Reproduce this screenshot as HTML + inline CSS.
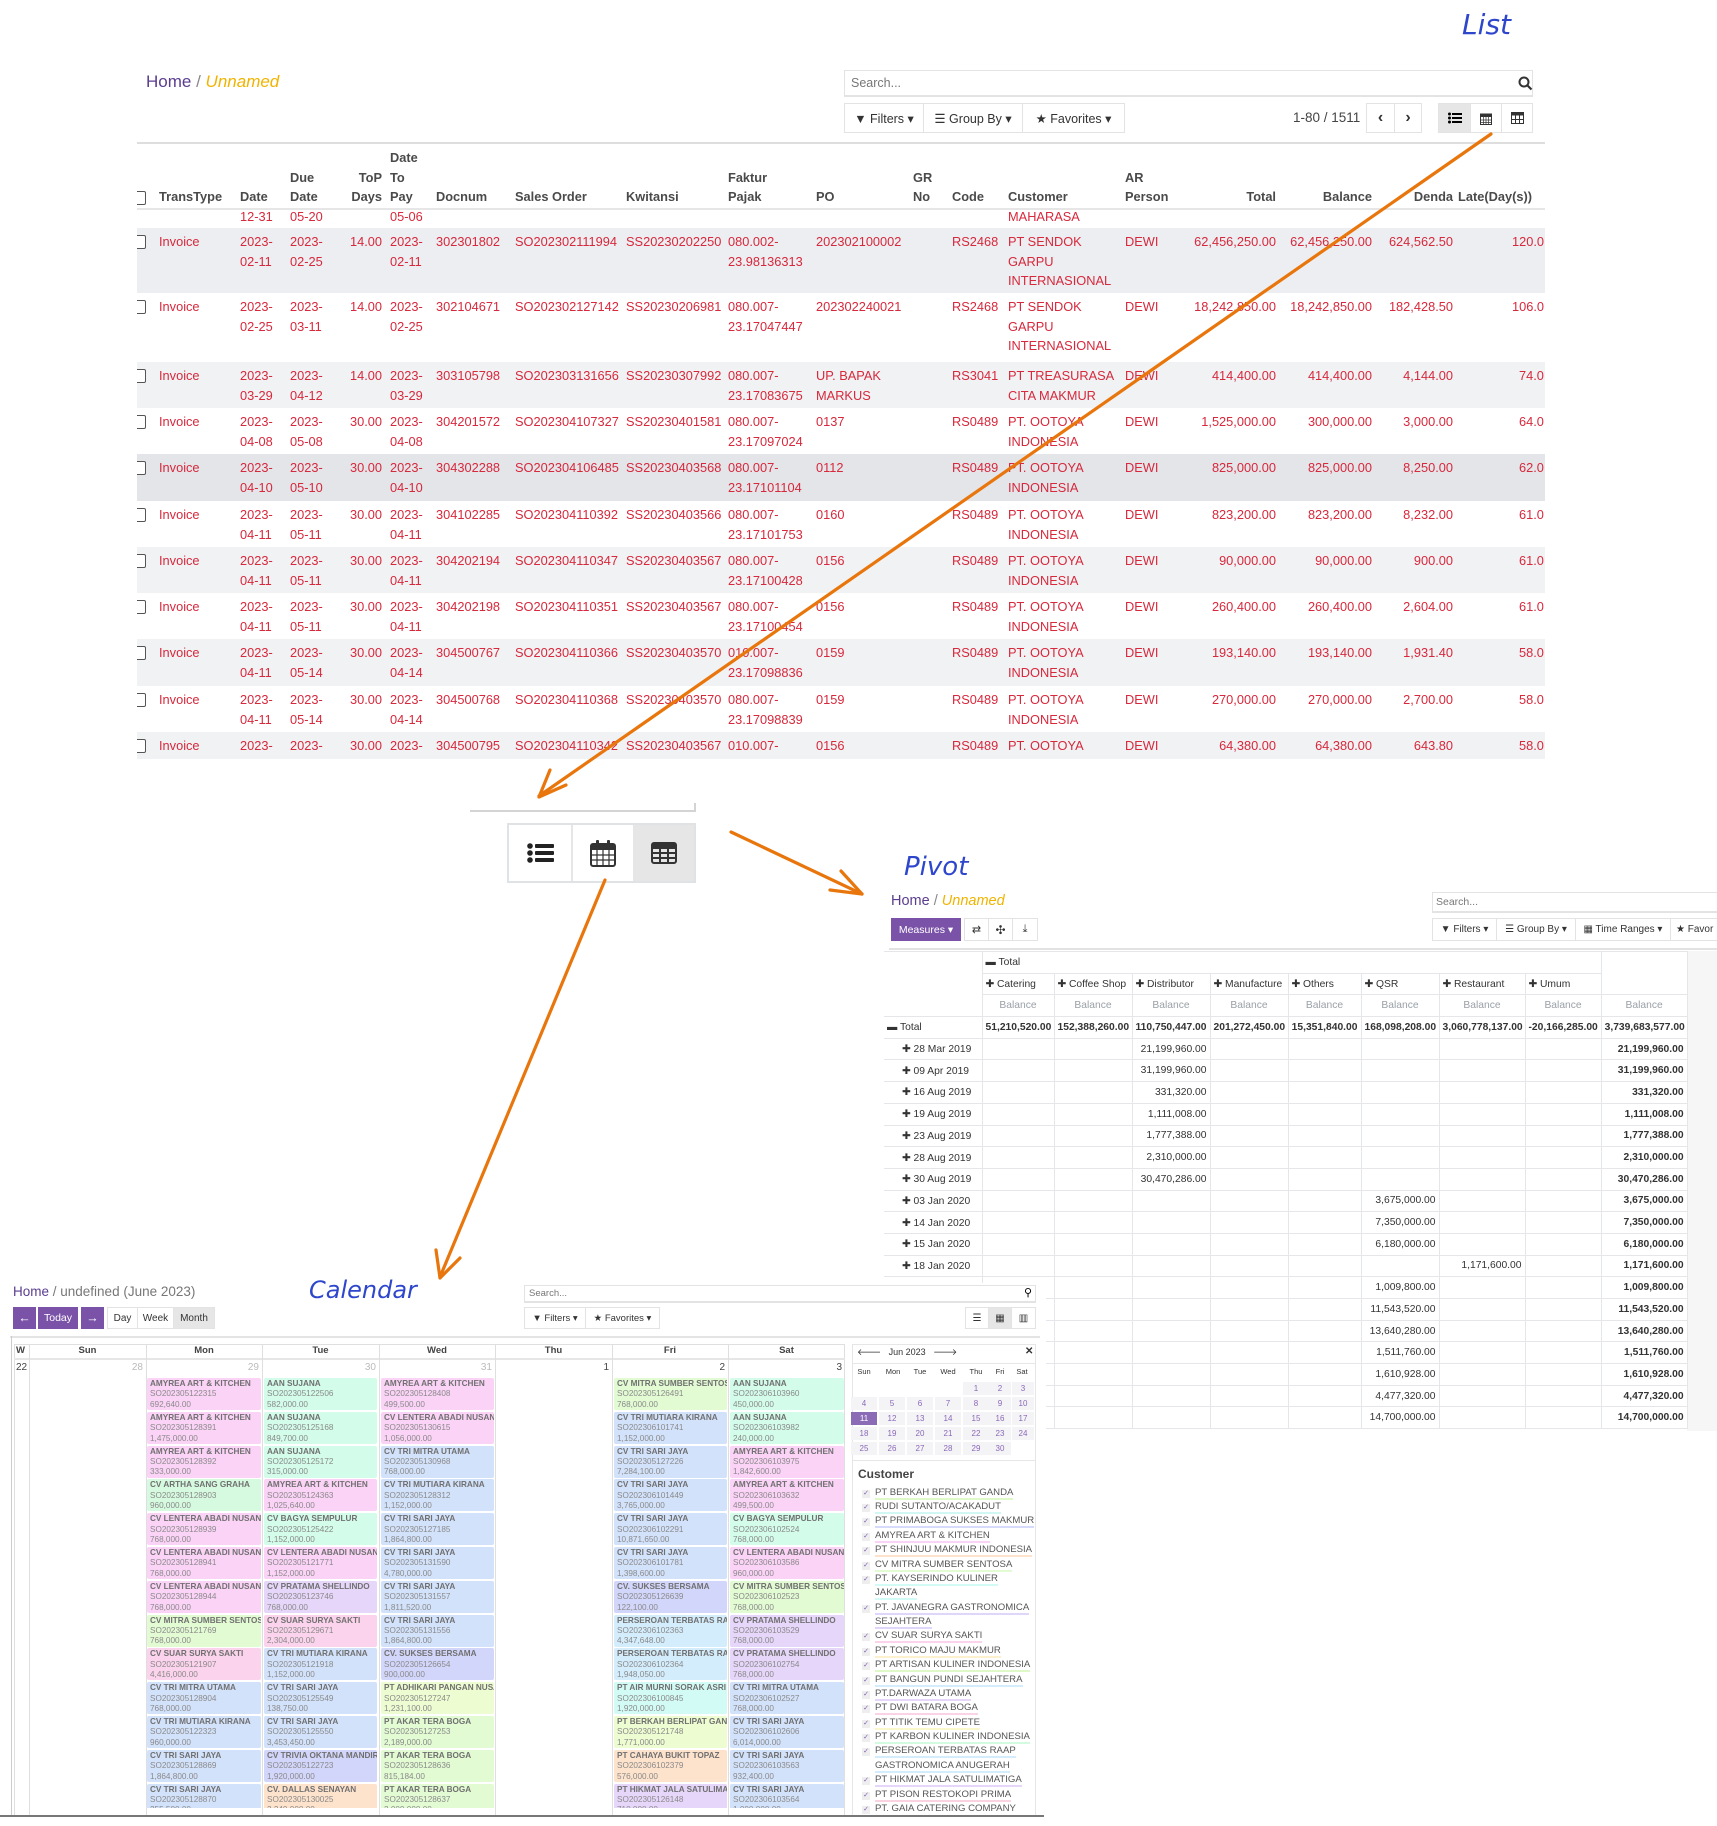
<!DOCTYPE html>
<html><head><meta charset="utf-8">
<style>
*{box-sizing:border-box;margin:0;padding:0}
body{width:1717px;height:1826px;position:relative;background:#fff;font-family:"Liberation Sans",Arial,sans-serif;overflow:hidden}
.t{position:absolute;white-space:nowrap}
.clip{position:absolute;overflow:hidden}
.inner{position:absolute;left:0;top:0;width:1717px;height:1826px}
.row{position:absolute;left:0;width:1717px}
.c{position:absolute;top:4px;line-height:19.5px;font-size:12.8px;color:#d7283c;white-space:nowrap}
.h{position:absolute;line-height:19.5px;font-size:12.8px;color:#4a4a4a;font-weight:bold;white-space:nowrap}
.cb{position:absolute;left:132px;width:14px;height:14px;border:1.5px solid #555;border-radius:2px;background:#fff}
.hand{position:absolute;color:#2d46cc;font-family:"Comic Sans MS","DejaVu Sans",cursive;font-style:italic;white-space:nowrap}
.btn{position:absolute;border:1px solid #e3e3e3;background:#fff;font-size:12.5px;color:#333;display:flex;align-items:center;justify-content:center;white-space:nowrap}
.pv{position:absolute;left:884px;top:951px;width:803px;border-collapse:collapse;table-layout:fixed;font-size:10.3px;color:#333}
.pv td{border:1.5px solid #e4e6e9;height:21.7px;padding:0 3px;text-align:right;white-space:nowrap;overflow:hidden}
.pv td.l{text-align:left}
.pv td.gr{color:#9aa0a6;text-align:center}
.pv td.b{font-weight:bold}
.col{position:absolute;top:1378px;height:430px;overflow:hidden;display:flex;flex-direction:column;gap:1.8px}
.ev{height:32px;flex-shrink:0;border-radius:2px;padding:1px 3px;font-size:8.2px;line-height:10.4px;color:#8a8a8a;white-space:nowrap;overflow:hidden}
.ev b{color:#707070}
.p{background:#fbd3f7}.m{background:#d3fcea}.bl{background:#d3e2fb}.g{background:#e2fbd3}.ga{background:#d6fadf}
.u{background:#e6d6fa}.lv{background:#d3d6fb}.y{background:#edfcd1}.o{background:#fde2cc}.cy{background:#d4edfc}.a{background:#d3fbf6}.s{background:#fcd3ec}
.cg{position:absolute;border:1px solid #dfdfdf}
.mc{position:absolute;font-size:8px;color:#8a67b8;text-align:center;width:26px;height:13px;line-height:13px;background:#f4f4f6}
.cu{position:absolute;left:862px;font-size:9.6px;color:#555;white-space:nowrap;line-height:12px}
.cu i{display:inline-block;width:8px;height:8px;background:#eee;color:#7a5bb0;font-size:7px;line-height:8px;text-align:center;font-style:normal;margin-right:5px}
</style></head><body>

<!-- ============ LIST ============ -->
<div class="hand" style="left:1462px;top:8px;font-size:28px">List</div>
<div class="t" style="left:146px;top:72px;font-size:17px;color:#5a3d8f">Home <span style="color:#888">/</span> <i style="color:#f0b400">Unnamed</i></div>
<div class="btn" style="left:844px;top:70px;width:689px;height:27px;justify-content:flex-start;padding-left:6px;color:#777;border-width:1px 1px 2px 1px">Search...</div>
<svg class="t" style="left:1518px;top:76px" width="15" height="15" viewBox="0 0 15 15"><circle cx="6" cy="6" r="4.5" fill="none" stroke="#333" stroke-width="2"/><line x1="9.5" y1="9.5" x2="13.5" y2="13.5" stroke="#333" stroke-width="2.2"/></svg>
<div class="btn" style="left:844px;top:103px;width:80px;height:30px">▼ Filters ▾</div>
<div class="btn" style="left:923px;top:103px;width:100px;height:30px">☰ Group By ▾</div>
<div class="btn" style="left:1022px;top:103px;width:103px;height:30px">★ Favorites ▾</div>
<div class="t" style="left:1293px;top:110px;font-size:13.5px;color:#444">1-80 / 1511</div>
<div class="btn" style="left:1366px;top:103px;width:29px;height:30px;font-size:16px;font-weight:bold">‹</div>
<div class="btn" style="left:1394px;top:103px;width:28px;height:30px;font-size:16px;font-weight:bold">›</div>
<div class="btn" style="left:1438px;top:103px;width:33px;height:30px;background:#e6e6e6"><svg width="14" height="12"><circle cx="1.5" cy="2" r="1.5"/><circle cx="1.5" cy="6" r="1.5"/><circle cx="1.5" cy="10" r="1.5"/><rect x="4" y="1" width="10" height="2"/><rect x="4" y="5" width="10" height="2"/><rect x="4" y="9" width="10" height="2"/></svg></div>
<div class="btn" style="left:1470px;top:103px;width:32px;height:30px"><svg width="12" height="13"><rect x="0.5" y="2" width="11" height="10.5" fill="none" stroke="#333"/><rect x="0.5" y="2" width="11" height="3" fill="#333"/><path d="M0 8h12M0 10.5h12M3.5 5v8M6 5v8M8.5 5v8" stroke="#333" stroke-width="0.7"/></svg></div>
<div class="btn" style="left:1501px;top:103px;width:32px;height:30px"><svg width="13" height="12"><rect x="0.5" y="0.5" width="12" height="11" fill="none" stroke="#333"/><rect x="0.5" y="0.5" width="12" height="3" fill="#333"/><path d="M0 7.5h13M4.5 3v9M8.5 3v9" stroke="#333"/></svg></div>

<div class="clip" style="left:137px;top:0;width:1408px;height:800px">
<div class="inner" style="left:-137px">
<div style="position:absolute;left:137px;top:142px;width:1408px;height:2px;background:#dedede"></div>
<div class="h" style="left:390px;top:148px">Date</div>
<div class="h" style="left:290px;top:168px">Due</div>
<div class="h" style="right:1335px;top:168px">ToP</div>
<div class="h" style="left:390px;top:168px">To</div>
<div class="h" style="left:728px;top:168px">Faktur</div>
<div class="h" style="left:913px;top:168px">GR</div>
<div class="h" style="left:1125px;top:168px">AR</div>
<div class="cb" style="top:191px"></div>
<div class="h" style="left:159px;top:187px">TransType</div>
<div class="h" style="left:240px;top:187px">Date</div>
<div class="h" style="left:290px;top:187px">Date</div>
<div class="h" style="right:1335px;top:187px">Days</div>
<div class="h" style="left:390px;top:187px">Pay</div>
<div class="h" style="left:436px;top:187px">Docnum</div>
<div class="h" style="left:515px;top:187px">Sales Order</div>
<div class="h" style="left:626px;top:187px">Kwitansi</div>
<div class="h" style="left:728px;top:187px">Pajak</div>
<div class="h" style="left:816px;top:187px">PO</div>
<div class="h" style="left:913px;top:187px">No</div>
<div class="h" style="left:952px;top:187px">Code</div>
<div class="h" style="left:1008px;top:187px">Customer</div>
<div class="h" style="left:1125px;top:187px">Person</div>
<div class="h" style="right:441px;top:187px">Total</div>
<div class="h" style="right:345px;top:187px">Balance</div>
<div class="h" style="right:264px;top:187px">Denda</div>
<div class="h" style="right:185px;top:187px">Late(Day(s))</div>
<div style="position:absolute;left:137px;top:208px;width:1408px;height:2px;background:#e6e6e6"></div>
<div class="row" style="top:203px;height:25px">
<div class="c" style="left:240px">12-31</div><div class="c" style="left:290px">05-20</div><div class="c" style="left:390px">05-06</div><div class="c" style="left:1008px">MAHARASA</div></div>

<div class="row" style="top:228px;height:65px;background:#eceef1"><div class="cb" style="top:7px"></div>
<div class="c" style="left:159px">Invoice</div><div class="c" style="left:240px">2023-<br>02-11</div><div class="c" style="left:290px">2023-<br>02-25</div><div class="c" style="right:1335px">14.00</div><div class="c" style="left:390px">2023-<br>02-11</div><div class="c" style="left:436px">302301802</div><div class="c" style="left:515px">SO202302111994</div><div class="c" style="left:626px">SS20230202250</div><div class="c" style="left:728px">080.002-<br>23.98136313</div><div class="c" style="left:816px">202302100002</div><div class="c" style="left:952px">RS2468</div><div class="c" style="left:1008px">PT SENDOK<br>GARPU<br>INTERNASIONAL</div><div class="c" style="left:1125px">DEWI</div><div class="c" style="right:441px">62,456,250.00</div><div class="c" style="right:345px">62,456,250.00</div><div class="c" style="right:264px">624,562.50</div><div class="c" style="left:1512px">120.0</div></div>

<div class="row" style="top:293px;height:69px"><div class="cb" style="top:7px"></div>
<div class="c" style="left:159px">Invoice</div><div class="c" style="left:240px">2023-<br>02-25</div><div class="c" style="left:290px">2023-<br>03-11</div><div class="c" style="right:1335px">14.00</div><div class="c" style="left:390px">2023-<br>02-25</div><div class="c" style="left:436px">302104671</div><div class="c" style="left:515px">SO202302127142</div><div class="c" style="left:626px">SS20230206981</div><div class="c" style="left:728px">080.007-<br>23.17047447</div><div class="c" style="left:816px">202302240021</div><div class="c" style="left:952px">RS2468</div><div class="c" style="left:1008px">PT SENDOK<br>GARPU<br>INTERNASIONAL</div><div class="c" style="left:1125px">DEWI</div><div class="c" style="right:441px">18,242,850.00</div><div class="c" style="right:345px">18,242,850.00</div><div class="c" style="right:264px">182,428.50</div><div class="c" style="left:1512px">106.0</div></div>

<div class="row" style="top:362px;height:46px;background:#f1f2f4"><div class="cb" style="top:7px"></div>
<div class="c" style="left:159px">Invoice</div><div class="c" style="left:240px">2023-<br>03-29</div><div class="c" style="left:290px">2023-<br>04-12</div><div class="c" style="right:1335px">14.00</div><div class="c" style="left:390px">2023-<br>03-29</div><div class="c" style="left:436px">303105798</div><div class="c" style="left:515px">SO202303131656</div><div class="c" style="left:626px">SS20230307992</div><div class="c" style="left:728px">080.007-<br>23.17083675</div><div class="c" style="left:816px">UP. BAPAK<br>MARKUS</div><div class="c" style="left:952px">RS3041</div><div class="c" style="left:1008px">PT TREASURASA<br>CITA MAKMUR</div><div class="c" style="left:1125px">DEWI</div><div class="c" style="right:441px">414,400.00</div><div class="c" style="right:345px">414,400.00</div><div class="c" style="right:264px">4,144.00</div><div class="c" style="left:1519px">74.0</div></div>

<div class="row" style="top:408px;height:46px"><div class="cb" style="top:7px"></div>
<div class="c" style="left:159px">Invoice</div><div class="c" style="left:240px">2023-<br>04-08</div><div class="c" style="left:290px">2023-<br>05-08</div><div class="c" style="right:1335px">30.00</div><div class="c" style="left:390px">2023-<br>04-08</div><div class="c" style="left:436px">304201572</div><div class="c" style="left:515px">SO202304107327</div><div class="c" style="left:626px">SS20230401581</div><div class="c" style="left:728px">080.007-<br>23.17097024</div><div class="c" style="left:816px">0137</div><div class="c" style="left:952px">RS0489</div><div class="c" style="left:1008px">PT. OOTOYA<br>INDONESIA</div><div class="c" style="left:1125px">DEWI</div><div class="c" style="right:441px">1,525,000.00</div><div class="c" style="right:345px">300,000.00</div><div class="c" style="right:264px">3,000.00</div><div class="c" style="left:1519px">64.0</div></div>

<div class="row" style="top:454px;height:47px;background:#e3e5e9"><div class="cb" style="top:7px"></div>
<div class="c" style="left:159px">Invoice</div><div class="c" style="left:240px">2023-<br>04-10</div><div class="c" style="left:290px">2023-<br>05-10</div><div class="c" style="right:1335px">30.00</div><div class="c" style="left:390px">2023-<br>04-10</div><div class="c" style="left:436px">304302288</div><div class="c" style="left:515px">SO202304106485</div><div class="c" style="left:626px">SS20230403568</div><div class="c" style="left:728px">080.007-<br>23.17101104</div><div class="c" style="left:816px">0112</div><div class="c" style="left:952px">RS0489</div><div class="c" style="left:1008px">PT. OOTOYA<br>INDONESIA</div><div class="c" style="left:1125px">DEWI</div><div class="c" style="right:441px">825,000.00</div><div class="c" style="right:345px">825,000.00</div><div class="c" style="right:264px">8,250.00</div><div class="c" style="left:1519px">62.0</div></div>

<div class="row" style="top:501px;height:46px"><div class="cb" style="top:7px"></div>
<div class="c" style="left:159px">Invoice</div><div class="c" style="left:240px">2023-<br>04-11</div><div class="c" style="left:290px">2023-<br>05-11</div><div class="c" style="right:1335px">30.00</div><div class="c" style="left:390px">2023-<br>04-11</div><div class="c" style="left:436px">304102285</div><div class="c" style="left:515px">SO202304110392</div><div class="c" style="left:626px">SS20230403566</div><div class="c" style="left:728px">080.007-<br>23.17101753</div><div class="c" style="left:816px">0160</div><div class="c" style="left:952px">RS0489</div><div class="c" style="left:1008px">PT. OOTOYA<br>INDONESIA</div><div class="c" style="left:1125px">DEWI</div><div class="c" style="right:441px">823,200.00</div><div class="c" style="right:345px">823,200.00</div><div class="c" style="right:264px">8,232.00</div><div class="c" style="left:1519px">61.0</div></div>

<div class="row" style="top:547px;height:46px;background:#f1f2f4"><div class="cb" style="top:7px"></div>
<div class="c" style="left:159px">Invoice</div><div class="c" style="left:240px">2023-<br>04-11</div><div class="c" style="left:290px">2023-<br>05-11</div><div class="c" style="right:1335px">30.00</div><div class="c" style="left:390px">2023-<br>04-11</div><div class="c" style="left:436px">304202194</div><div class="c" style="left:515px">SO202304110347</div><div class="c" style="left:626px">SS20230403567</div><div class="c" style="left:728px">080.007-<br>23.17100428</div><div class="c" style="left:816px">0156</div><div class="c" style="left:952px">RS0489</div><div class="c" style="left:1008px">PT. OOTOYA<br>INDONESIA</div><div class="c" style="left:1125px">DEWI</div><div class="c" style="right:441px">90,000.00</div><div class="c" style="right:345px">90,000.00</div><div class="c" style="right:264px">900.00</div><div class="c" style="left:1519px">61.0</div></div>

<div class="row" style="top:593px;height:46px"><div class="cb" style="top:7px"></div>
<div class="c" style="left:159px">Invoice</div><div class="c" style="left:240px">2023-<br>04-11</div><div class="c" style="left:290px">2023-<br>05-11</div><div class="c" style="right:1335px">30.00</div><div class="c" style="left:390px">2023-<br>04-11</div><div class="c" style="left:436px">304202198</div><div class="c" style="left:515px">SO202304110351</div><div class="c" style="left:626px">SS20230403567</div><div class="c" style="left:728px">080.007-<br>23.17100454</div><div class="c" style="left:816px">0156</div><div class="c" style="left:952px">RS0489</div><div class="c" style="left:1008px">PT. OOTOYA<br>INDONESIA</div><div class="c" style="left:1125px">DEWI</div><div class="c" style="right:441px">260,400.00</div><div class="c" style="right:345px">260,400.00</div><div class="c" style="right:264px">2,604.00</div><div class="c" style="left:1519px">61.0</div></div>

<div class="row" style="top:639px;height:47px;background:#f1f2f4"><div class="cb" style="top:7px"></div>
<div class="c" style="left:159px">Invoice</div><div class="c" style="left:240px">2023-<br>04-11</div><div class="c" style="left:290px">2023-<br>05-14</div><div class="c" style="right:1335px">30.00</div><div class="c" style="left:390px">2023-<br>04-14</div><div class="c" style="left:436px">304500767</div><div class="c" style="left:515px">SO202304110366</div><div class="c" style="left:626px">SS20230403570</div><div class="c" style="left:728px">010.007-<br>23.17098836</div><div class="c" style="left:816px">0159</div><div class="c" style="left:952px">RS0489</div><div class="c" style="left:1008px">PT. OOTOYA<br>INDONESIA</div><div class="c" style="left:1125px">DEWI</div><div class="c" style="right:441px">193,140.00</div><div class="c" style="right:345px">193,140.00</div><div class="c" style="right:264px">1,931.40</div><div class="c" style="left:1519px">58.0</div></div>

<div class="row" style="top:686px;height:46px"><div class="cb" style="top:7px"></div>
<div class="c" style="left:159px">Invoice</div><div class="c" style="left:240px">2023-<br>04-11</div><div class="c" style="left:290px">2023-<br>05-14</div><div class="c" style="right:1335px">30.00</div><div class="c" style="left:390px">2023-<br>04-14</div><div class="c" style="left:436px">304500768</div><div class="c" style="left:515px">SO202304110368</div><div class="c" style="left:626px">SS20230403570</div><div class="c" style="left:728px">080.007-<br>23.17098839</div><div class="c" style="left:816px">0159</div><div class="c" style="left:952px">RS0489</div><div class="c" style="left:1008px">PT. OOTOYA<br>INDONESIA</div><div class="c" style="left:1125px">DEWI</div><div class="c" style="right:441px">270,000.00</div><div class="c" style="right:345px">270,000.00</div><div class="c" style="right:264px">2,700.00</div><div class="c" style="left:1519px">58.0</div></div>

<div class="row" style="top:732px;height:27px;background:#f1f2f4"><div class="cb" style="top:7px"></div>
<div class="c" style="left:159px">Invoice</div><div class="c" style="left:240px">2023-</div><div class="c" style="left:290px">2023-</div><div class="c" style="right:1335px">30.00</div><div class="c" style="left:390px">2023-</div><div class="c" style="left:436px">304500795</div><div class="c" style="left:515px">SO202304110342</div><div class="c" style="left:626px">SS20230403567</div><div class="c" style="left:728px">010.007-</div><div class="c" style="left:816px">0156</div><div class="c" style="left:952px">RS0489</div><div class="c" style="left:1008px">PT. OOTOYA</div><div class="c" style="left:1125px">DEWI</div><div class="c" style="right:441px">64,380.00</div><div class="c" style="right:345px">64,380.00</div><div class="c" style="right:264px">643.80</div><div class="c" style="left:1519px">58.0</div></div>
</div></div>

<!-- middle view switcher -->
<div style="position:absolute;left:470px;top:810px;width:226px;height:2px;background:#d4d4d4"></div>
<div style="position:absolute;left:694px;top:803px;width:2px;height:9px;background:#d4d4d4"></div>
<div style="position:absolute;left:507px;top:823px;width:189px;height:60px;border:2px solid #dfe3e6;background:#e6e6e6"></div>
<div style="position:absolute;left:509px;top:825px;width:62px;height:56px;background:#fff;display:flex;align-items:center;justify-content:center"><svg width="27" height="20"><circle cx="3" cy="3" r="2.8" fill="#222"/><circle cx="3" cy="10" r="2.8" fill="#222"/><circle cx="3" cy="17" r="2.8" fill="#222"/><rect x="8" y="1" width="19" height="4" rx="1" fill="#222"/><rect x="8" y="8" width="19" height="4" rx="1" fill="#222"/><rect x="8" y="15" width="19" height="4" rx="1" fill="#222"/></svg></div>
<div style="position:absolute;left:573px;top:825px;width:60px;height:56px;background:#fff;display:flex;align-items:center;justify-content:center"><svg width="26" height="27"><rect x="1" y="4" width="24" height="22" rx="2" fill="none" stroke="#333" stroke-width="2"/><rect x="1" y="4" width="24" height="6" fill="#333"/><rect x="6" y="0" width="3" height="7" rx="1" fill="#333"/><rect x="17" y="0" width="3" height="7" rx="1" fill="#333"/><path d="M1 15h24M1 20h24M7 10v16M13 10v16M19 10v16" stroke="#333" stroke-width="1.2"/></svg></div>
<div style="position:absolute;left:634px;top:825px;width:60px;height:56px;display:flex;align-items:center;justify-content:center"><svg width="26" height="22"><rect x="1" y="1" width="24" height="20" rx="2" fill="none" stroke="#333" stroke-width="2"/><rect x="1" y="1" width="24" height="6" fill="#333"/><path d="M1 11h24M1 16h24M9 6v15M17 6v15" stroke="#333" stroke-width="2"/></svg></div>

<!-- ============ PIVOT ============ -->
<div class="hand" style="left:904px;top:852px;font-size:26px">Pivot</div>
<div class="t" style="left:891px;top:893px;font-size:14.5px;color:#5a3d8f">Home <span style="color:#888">/</span> <i style="color:#f0b400">Unnamed</i></div>
<div class="btn" style="left:891px;top:918px;width:70px;height:23px;background:#7a52a8;color:#fff;border-color:#7a52a8;font-size:10.5px">Measures ▾</div>
<div class="btn" style="left:964px;top:918px;width:25px;height:23px;font-size:11px">⇄</div>
<div class="btn" style="left:988px;top:918px;width:25px;height:23px;font-size:12px">✣</div>
<div class="btn" style="left:1012px;top:918px;width:26px;height:23px;font-size:11px">⤓</div>
<div class="btn" style="left:1432px;top:892px;width:300px;height:21px;justify-content:flex-start;padding-left:3px;font-size:10.5px;color:#777;border-width:1px 1px 2px 1px">Search...</div>
<div class="btn" style="left:1432px;top:918px;width:65px;height:23px;font-size:10px">▼ Filters ▾</div>
<div class="btn" style="left:1496px;top:918px;width:80px;height:23px;font-size:10px">☰ Group By ▾</div>
<div class="btn" style="left:1575px;top:918px;width:96px;height:23px;font-size:10px">▦ Time Ranges ▾</div>
<div class="btn" style="left:1670px;top:918px;width:60px;height:23px;font-size:10px;justify-content:flex-start;padding-left:5px">★ Favor</div>
<div style="position:absolute;left:889px;top:948px;width:828px;height:2px;background:#e2e2e2"></div>
<div style="position:absolute;left:1687px;top:951px;width:30px;height:480px;background:#f6f6f6"></div>
<div class="clip" style="left:884px;top:950px;width:833px;height:480px">
<table class="pv" style="left:0;top:1px">
<colgroup><col style="width:98px"><col style="width:72px"><col style="width:78px"><col style="width:78px"><col style="width:78px"><col style="width:73px"><col style="width:78px"><col style="width:86px"><col style="width:76px"><col style="width:86px"></colgroup>
<tr><td rowspan="3" style="border-left:none"></td><td colspan="8" class="l">▬ Total</td><td rowspan="2"></td></tr>
<tr><td class="l">✚ Catering</td><td class="l">✚ Coffee Shop</td><td class="l">✚ Distributor</td><td class="l">✚ Manufacture</td><td class="l">✚ Others</td><td class="l">✚ QSR</td><td class="l">✚ Restaurant</td><td class="l">✚ Umum</td></tr>
<tr><td class="gr">Balance</td><td class="gr">Balance</td><td class="gr">Balance</td><td class="gr">Balance</td><td class="gr">Balance</td><td class="gr">Balance</td><td class="gr">Balance</td><td class="gr">Balance</td><td class="gr">Balance</td></tr>
<tr><td class="l" style="border-left:none">▬ Total</td><td class="b">51,210,520.00</td><td class="b">152,388,260.00</td><td class="b">110,750,447.00</td><td class="b">201,272,450.00</td><td class="b">15,351,840.00</td><td class="b">168,098,208.00</td><td class="b">3,060,778,137.00</td><td class="b">-20,166,285.00</td><td class="b">3,739,683,577.00</td></tr>
<tr><td class="l" style="padding-left:18px;border-left:none">✚ 28 Mar 2019</td><td></td><td></td><td>21,199,960.00</td><td></td><td></td><td></td><td></td><td></td><td class="b">21,199,960.00</td></tr>
<tr><td class="l" style="padding-left:18px;border-left:none">✚ 09 Apr 2019</td><td></td><td></td><td>31,199,960.00</td><td></td><td></td><td></td><td></td><td></td><td class="b">31,199,960.00</td></tr>
<tr><td class="l" style="padding-left:18px;border-left:none">✚ 16 Aug 2019</td><td></td><td></td><td>331,320.00</td><td></td><td></td><td></td><td></td><td></td><td class="b">331,320.00</td></tr>
<tr><td class="l" style="padding-left:18px;border-left:none">✚ 19 Aug 2019</td><td></td><td></td><td>1,111,008.00</td><td></td><td></td><td></td><td></td><td></td><td class="b">1,111,008.00</td></tr>
<tr><td class="l" style="padding-left:18px;border-left:none">✚ 23 Aug 2019</td><td></td><td></td><td>1,777,388.00</td><td></td><td></td><td></td><td></td><td></td><td class="b">1,777,388.00</td></tr>
<tr><td class="l" style="padding-left:18px;border-left:none">✚ 28 Aug 2019</td><td></td><td></td><td>2,310,000.00</td><td></td><td></td><td></td><td></td><td></td><td class="b">2,310,000.00</td></tr>
<tr><td class="l" style="padding-left:18px;border-left:none">✚ 30 Aug 2019</td><td></td><td></td><td>30,470,286.00</td><td></td><td></td><td></td><td></td><td></td><td class="b">30,470,286.00</td></tr>
<tr><td class="l" style="padding-left:18px;border-left:none">✚ 03 Jan 2020</td><td></td><td></td><td></td><td></td><td></td><td>3,675,000.00</td><td></td><td></td><td class="b">3,675,000.00</td></tr>
<tr><td class="l" style="padding-left:18px;border-left:none">✚ 14 Jan 2020</td><td></td><td></td><td></td><td></td><td></td><td>7,350,000.00</td><td></td><td></td><td class="b">7,350,000.00</td></tr>
<tr><td class="l" style="padding-left:18px;border-left:none">✚ 15 Jan 2020</td><td></td><td></td><td></td><td></td><td></td><td>6,180,000.00</td><td></td><td></td><td class="b">6,180,000.00</td></tr>
<tr><td class="l" style="padding-left:18px;border-left:none">✚ 18 Jan 2020</td><td></td><td></td><td></td><td></td><td></td><td></td><td>1,171,600.00</td><td></td><td class="b">1,171,600.00</td></tr>
<tr><td class="l" style="padding-left:18px;border-left:none">✚ 20 Jan 2020</td><td></td><td></td><td></td><td></td><td></td><td>1,009,800.00</td><td></td><td></td><td class="b">1,009,800.00</td></tr>
<tr><td class="l" style="border-left:none"></td><td></td><td></td><td></td><td></td><td></td><td>11,543,520.00</td><td></td><td></td><td class="b">11,543,520.00</td></tr>
<tr><td class="l" style="border-left:none"></td><td></td><td></td><td></td><td></td><td></td><td>13,640,280.00</td><td></td><td></td><td class="b">13,640,280.00</td></tr>
<tr><td class="l" style="border-left:none"></td><td></td><td></td><td></td><td></td><td></td><td>1,511,760.00</td><td></td><td></td><td class="b">1,511,760.00</td></tr>
<tr><td class="l" style="border-left:none"></td><td></td><td></td><td></td><td></td><td></td><td>1,610,928.00</td><td></td><td></td><td class="b">1,610,928.00</td></tr>
<tr><td class="l" style="border-left:none"></td><td></td><td></td><td></td><td></td><td></td><td>4,477,320.00</td><td></td><td></td><td class="b">4,477,320.00</td></tr>
<tr><td class="l" style="border-left:none"></td><td></td><td></td><td></td><td></td><td></td><td>14,700,000.00</td><td></td><td></td><td class="b">14,700,000.00</td></tr>
</table></div>

<!-- ============ CALENDAR ============ -->
<div style="position:absolute;left:0;top:1283px;width:1046px;height:543px;background:#fff"></div>
<div class="hand" style="left:309px;top:1276px;font-size:24px">Calendar</div>
<div class="t" style="left:13px;top:1284px;font-size:13.5px;color:#5a3d8f">Home <span style="color:#777">/ undefined (June 2023)</span></div>
<div class="btn" style="left:13px;top:1307px;width:23px;height:22px;background:#7a52a8;color:#fff;border-color:#7a52a8;font-weight:bold">←</div>
<div class="btn" style="left:38px;top:1307px;width:40px;height:22px;background:#7a52a8;color:#fff;border-color:#7a52a8;font-size:10.5px">Today</div>
<div class="btn" style="left:81px;top:1307px;width:23px;height:22px;background:#7a52a8;color:#fff;border-color:#7a52a8;font-weight:bold">→</div>
<div class="btn" style="left:107px;top:1307px;width:31px;height:22px;font-size:10px">Day</div>
<div class="btn" style="left:137px;top:1307px;width:37px;height:22px;font-size:10px">Week</div>
<div class="btn" style="left:173px;top:1307px;width:42px;height:22px;font-size:10px;background:#e6e6e6">Month</div>
<div class="btn" style="left:524px;top:1285px;width:512px;height:18px;justify-content:flex-start;padding-left:4px;font-size:9.5px;color:#777;border-width:1px 1px 2px 1px">Search...</div>
<div class="t" style="left:1024px;top:1286px;font-size:11px">⚲</div>
<div class="btn" style="left:524px;top:1307px;width:62px;height:22px;font-size:9.5px">▼ Filters ▾</div>
<div class="btn" style="left:585px;top:1307px;width:75px;height:22px;font-size:9.5px">★ Favorites ▾</div>
<div class="btn" style="left:965px;top:1307px;width:24px;height:22px;font-size:10px">☰</div>
<div class="btn" style="left:988px;top:1307px;width:24px;height:22px;font-size:10px;background:#e6e6e6">▦</div>
<div class="btn" style="left:1011px;top:1307px;width:25px;height:22px;font-size:10px">▥</div>
<div style="position:absolute;left:10px;top:1336px;width:1030px;height:2px;background:#e4e4e4"></div>
<div style="position:absolute;left:11px;top:1336px;width:1px;height:480px;background:#ccc"></div>
<div class="cg" style="left:14px;top:1344px;width:831px;height:472px"></div>
<div style="position:absolute;left:14px;top:1358px;width:831px;height:2px;background:#e6e6e6"></div>
<div style="position:absolute;left:29px;top:1344px;width:1px;height:472px;background:#dfdfdf"></div>
<div style="position:absolute;left:146px;top:1344px;width:1px;height:472px;background:#dfdfdf"></div>
<div style="position:absolute;left:262px;top:1344px;width:1px;height:472px;background:#dfdfdf"></div>
<div style="position:absolute;left:379px;top:1344px;width:1px;height:472px;background:#dfdfdf"></div>
<div style="position:absolute;left:495px;top:1344px;width:1px;height:472px;background:#dfdfdf"></div>
<div style="position:absolute;left:612px;top:1344px;width:1px;height:472px;background:#dfdfdf"></div>
<div style="position:absolute;left:728px;top:1344px;width:1px;height:472px;background:#dfdfdf"></div>
<div class="t" style="left:16px;top:1345px;font-size:9.5px;font-weight:bold;color:#444">W</div>
<div class="t" style="left:29px;top:1345px;width:117px;text-align:center;font-size:9.5px;font-weight:bold;color:#444">Sun</div>
<div class="t" style="left:146px;top:1345px;width:116px;text-align:center;font-size:9.5px;font-weight:bold;color:#444">Mon</div>
<div class="t" style="left:262px;top:1345px;width:117px;text-align:center;font-size:9.5px;font-weight:bold;color:#444">Tue</div>
<div class="t" style="left:379px;top:1345px;width:116px;text-align:center;font-size:9.5px;font-weight:bold;color:#444">Wed</div>
<div class="t" style="left:495px;top:1345px;width:117px;text-align:center;font-size:9.5px;font-weight:bold;color:#444">Thu</div>
<div class="t" style="left:612px;top:1345px;width:116px;text-align:center;font-size:9.5px;font-weight:bold;color:#444">Fri</div>
<div class="t" style="left:728px;top:1345px;width:117px;text-align:center;font-size:9.5px;font-weight:bold;color:#444">Sat</div>
<div class="t" style="left:16px;top:1362px;font-size:10px;color:#444">22</div>
<div class="t" style="left:100px;top:1362px;width:43px;text-align:right;font-size:10px;color:#bbb">28</div>
<div class="t" style="left:216px;top:1362px;width:43px;text-align:right;font-size:10px;color:#bbb">29</div>
<div class="t" style="left:333px;top:1362px;width:43px;text-align:right;font-size:10px;color:#bbb">30</div>
<div class="t" style="left:449px;top:1362px;width:43px;text-align:right;font-size:10px;color:#bbb">31</div>
<div class="t" style="left:566px;top:1362px;width:43px;text-align:right;font-size:10px;color:#444">1</div>
<div class="t" style="left:682px;top:1362px;width:43px;text-align:right;font-size:10px;color:#444">2</div>
<div class="t" style="left:799px;top:1362px;width:43px;text-align:right;font-size:10px;color:#444">3</div>

<div class="col" style="left:147px;width:114px">
<div class="ev p"><b>AMYREA ART &amp; KITCHEN</b><br>SO202305122315<br>692,640.00</div>
<div class="ev p"><b>AMYREA ART &amp; KITCHEN</b><br>SO202305128391<br>1,475,000.00</div>
<div class="ev p"><b>AMYREA ART &amp; KITCHEN</b><br>SO202305128392<br>333,000.00</div>
<div class="ev ga"><b>CV ARTHA SANG GRAHA</b><br>SO202305128903<br>960,000.00</div>
<div class="ev p"><b>CV LENTERA ABADI NUSANTARA</b><br>SO202305128939<br>768,000.00</div>
<div class="ev p"><b>CV LENTERA ABADI NUSANTARA</b><br>SO202305128941<br>768,000.00</div>
<div class="ev p"><b>CV LENTERA ABADI NUSANTARA</b><br>SO202305128944<br>768,000.00</div>
<div class="ev g"><b>CV MITRA SUMBER SENTOSA</b><br>SO202305121769<br>768,000.00</div>
<div class="ev s"><b>CV SUAR SURYA SAKTI</b><br>SO202305121907<br>4,416,000.00</div>
<div class="ev bl"><b>CV TRI MITRA UTAMA</b><br>SO202305128904<br>768,000.00</div>
<div class="ev bl"><b>CV TRI MUTIARA KIRANA</b><br>SO202305122323<br>960,000.00</div>
<div class="ev bl"><b>CV TRI SARI JAYA</b><br>SO202305128869<br>1,864,800.00</div>
<div class="ev bl"><b>CV TRI SARI JAYA</b><br>SO202305128870<br>255,500.00</div>
</div>
<div class="col" style="left:264px;width:113px">
<div class="ev m"><b>AAN SUJANA</b><br>SO202305122506<br>582,000.00</div>
<div class="ev m"><b>AAN SUJANA</b><br>SO202305125168<br>849,700.00</div>
<div class="ev m"><b>AAN SUJANA</b><br>SO202305125172<br>315,000.00</div>
<div class="ev p"><b>AMYREA ART &amp; KITCHEN</b><br>SO202305124363<br>1,025,640.00</div>
<div class="ev m"><b>CV BAGYA SEMPULUR</b><br>SO202305125422<br>1,152,000.00</div>
<div class="ev p"><b>CV LENTERA ABADI NUSANTARA</b><br>SO202305121771<br>1,152,000.00</div>
<div class="ev u"><b>CV PRATAMA SHELLINDO</b><br>SO202305123746<br>768,000.00</div>
<div class="ev s"><b>CV SUAR SURYA SAKTI</b><br>SO202305129671<br>2,304,000.00</div>
<div class="ev bl"><b>CV TRI MUTIARA KIRANA</b><br>SO202305121918<br>1,152,000.00</div>
<div class="ev bl"><b>CV TRI SARI JAYA</b><br>SO202305125549<br>138,750.00</div>
<div class="ev bl"><b>CV TRI SARI JAYA</b><br>SO202305125550<br>3,453,450.00</div>
<div class="ev lv"><b>CV TRIVIA OKTANA MANDIRI</b><br>SO202305122723<br>1,920,000.00</div>
<div class="ev o"><b>CV. DALLAS SENAYAN</b><br>SO202305130025<br>2,240,000.00</div>
</div>
<div class="col" style="left:381px;width:113px">
<div class="ev p"><b>AMYREA ART &amp; KITCHEN</b><br>SO202305128408<br>499,500.00</div>
<div class="ev p"><b>CV LENTERA ABADI NUSANTARA</b><br>SO202305130615<br>1,056,000.00</div>
<div class="ev bl"><b>CV TRI MITRA UTAMA</b><br>SO202305130968<br>768,000.00</div>
<div class="ev bl"><b>CV TRI MUTIARA KIRANA</b><br>SO202305128312<br>1,152,000.00</div>
<div class="ev bl"><b>CV TRI SARI JAYA</b><br>SO202305127185<br>1,864,800.00</div>
<div class="ev bl"><b>CV TRI SARI JAYA</b><br>SO202305131590<br>4,780,000.00</div>
<div class="ev bl"><b>CV TRI SARI JAYA</b><br>SO202305131557<br>1,811,520.00</div>
<div class="ev bl"><b>CV TRI SARI JAYA</b><br>SO202305131556<br>1,864,800.00</div>
<div class="ev lv"><b>CV. SUKSES BERSAMA</b><br>SO202305126654<br>900,000.00</div>
<div class="ev y"><b>PT ADHIKARI PANGAN NUSANTARA</b><br>SO202305127247<br>1,231,100.00</div>
<div class="ev g"><b>PT AKAR TERA BOGA</b><br>SO202305127253<br>2,189,000.00</div>
<div class="ev g"><b>PT AKAR TERA BOGA</b><br>SO202305128636<br>815,184.00</div>
<div class="ev g"><b>PT AKAR TERA BOGA</b><br>SO202305128637<br>2,000,000.00</div>
</div>
<div class="col" style="left:614px;width:113px">
<div class="ev g"><b>CV MITRA SUMBER SENTOSA</b><br>SO202305126491<br>768,000.00</div>
<div class="ev bl"><b>CV TRI MUTIARA KIRANA</b><br>SO202306101741<br>1,152,000.00</div>
<div class="ev bl"><b>CV TRI SARI JAYA</b><br>SO202305127226<br>7,284,100.00</div>
<div class="ev bl"><b>CV TRI SARI JAYA</b><br>SO202306101449<br>3,765,000.00</div>
<div class="ev bl"><b>CV TRI SARI JAYA</b><br>SO202306102291<br>10,871,650.00</div>
<div class="ev bl"><b>CV TRI SARI JAYA</b><br>SO202306101781<br>1,398,600.00</div>
<div class="ev lv"><b>CV. SUKSES BERSAMA</b><br>SO202305126639<br>122,100.00</div>
<div class="ev cy"><b>PERSEROAN TERBATAS RAAP</b><br>SO202306102363<br>4,347,648.00</div>
<div class="ev cy"><b>PERSEROAN TERBATAS RAAP</b><br>SO202306102364<br>1,948,050.00</div>
<div class="ev a"><b>PT AIR MURNI SORAK ASRI LESTARI</b><br>SO202306100845<br>1,920,000.00</div>
<div class="ev y"><b>PT BERKAH BERLIPAT GANDA</b><br>SO202305121748<br>1,771,000.00</div>
<div class="ev o"><b>PT CAHAYA BUKIT TOPAZ</b><br>SO202306102379<br>576,000.00</div>
<div class="ev u"><b>PT HIKMAT JALA SATULIMATIGA</b><br>SO202305126148<br>710,000.00</div>
</div>
<div class="col" style="left:730px;width:114px">
<div class="ev m"><b>AAN SUJANA</b><br>SO202306103960<br>450,000.00</div>
<div class="ev m"><b>AAN SUJANA</b><br>SO202306103982<br>240,000.00</div>
<div class="ev p"><b>AMYREA ART &amp; KITCHEN</b><br>SO202306103975<br>1,842,600.00</div>
<div class="ev p"><b>AMYREA ART &amp; KITCHEN</b><br>SO202306103632<br>499,500.00</div>
<div class="ev m"><b>CV BAGYA SEMPULUR</b><br>SO202306102524<br>768,000.00</div>
<div class="ev p"><b>CV LENTERA ABADI NUSANTARA</b><br>SO202306103586<br>960,000.00</div>
<div class="ev g"><b>CV MITRA SUMBER SENTOSA</b><br>SO202306102523<br>768,000.00</div>
<div class="ev u"><b>CV PRATAMA SHELLINDO</b><br>SO202306103529<br>768,000.00</div>
<div class="ev u"><b>CV PRATAMA SHELLINDO</b><br>SO202306102754<br>768,000.00</div>
<div class="ev bl"><b>CV TRI MITRA UTAMA</b><br>SO202306102527<br>768,000.00</div>
<div class="ev bl"><b>CV TRI SARI JAYA</b><br>SO202306102606<br>6,014,000.00</div>
<div class="ev bl"><b>CV TRI SARI JAYA</b><br>SO202306103563<br>932,400.00</div>
<div class="ev bl"><b>CV TRI SARI JAYA</b><br>SO202306103564<br>1,000,000.00</div>
</div>

<div class="cg" style="left:852px;top:1344px;width:184px;height:472px;border-color:#e6e6e6"></div>
<div style="position:absolute;left:852px;top:1363px;width:184px;height:1px;background:#e6e6e6"></div>
<div class="t" style="left:857px;top:1347px;font-size:9px;color:#333">🡐&nbsp;&nbsp; Jun 2023 &nbsp;&nbsp;🡒</div>
<div class="t" style="left:1025px;top:1346px;font-size:10px;font-weight:bold;color:#333">✕</div>
<div class="t" style="left:851px;top:1367px;font-size:7.5px;color:#333;width:26px;text-align:center">Sun</div>
<div class="t" style="left:880px;top:1367px;font-size:7.5px;color:#333;width:26px;text-align:center">Mon</div>
<div class="t" style="left:907px;top:1367px;font-size:7.5px;color:#333;width:26px;text-align:center">Tue</div>
<div class="t" style="left:935px;top:1367px;font-size:7.5px;color:#333;width:26px;text-align:center">Wed</div>
<div class="t" style="left:963px;top:1367px;font-size:7.5px;color:#333;width:26px;text-align:center">Thu</div>
<div class="t" style="left:987px;top:1367px;font-size:7.5px;color:#333;width:26px;text-align:center">Fri</div>
<div class="t" style="left:1009px;top:1367px;font-size:7.5px;color:#333;width:26px;text-align:center">Sat</div>
<div class="mc" style="left:963px;top:1382px">1</div><div class="mc" style="left:989px;top:1382px;width:22px">2</div><div class="mc" style="left:1012px;top:1382px;width:22px">3</div>
<div class="mc" style="left:851px;top:1397px">4</div><div class="mc" style="left:879px;top:1397px">5</div><div class="mc" style="left:907px;top:1397px">6</div><div class="mc" style="left:935px;top:1397px">7</div><div class="mc" style="left:963px;top:1397px">8</div><div class="mc" style="left:989px;top:1397px;width:22px">9</div><div class="mc" style="left:1012px;top:1397px;width:22px">10</div>
<div class="mc" style="left:851px;top:1412px;background:#8b6bb5;color:#fff">11</div><div class="mc" style="left:879px;top:1412px">12</div><div class="mc" style="left:907px;top:1412px">13</div><div class="mc" style="left:935px;top:1412px">14</div><div class="mc" style="left:963px;top:1412px">15</div><div class="mc" style="left:989px;top:1412px;width:22px">16</div><div class="mc" style="left:1012px;top:1412px;width:22px">17</div>
<div class="mc" style="left:851px;top:1427px">18</div><div class="mc" style="left:879px;top:1427px">19</div><div class="mc" style="left:907px;top:1427px">20</div><div class="mc" style="left:935px;top:1427px">21</div><div class="mc" style="left:963px;top:1427px">22</div><div class="mc" style="left:989px;top:1427px;width:22px">23</div><div class="mc" style="left:1012px;top:1427px;width:22px">24</div>
<div class="mc" style="left:851px;top:1442px">25</div><div class="mc" style="left:879px;top:1442px">26</div><div class="mc" style="left:907px;top:1442px">27</div><div class="mc" style="left:935px;top:1442px">28</div><div class="mc" style="left:963px;top:1442px">29</div><div class="mc" style="left:989px;top:1442px;width:22px">30</div>
<div style="position:absolute;left:852px;top:1460px;width:184px;height:1px;background:#e6e6e6"></div>
<div class="t" style="left:858px;top:1467px;font-size:12px;font-weight:bold;color:#444">Customer</div>
<div class="cu" style="top:1487px"><i>✓</i><span style="border-bottom:2px solid #dff8c8">PT BERKAH BERLIPAT GANDA</span></div>
<div class="cu" style="top:1501px"><i>✓</i><span style="border-bottom:2px solid #d0f7f4">RUDI SUTANTO/ACAKADUT</span></div>
<div class="cu" style="top:1515px"><i>✓</i><span style="border-bottom:2px solid #d6dafb">PT PRIMABOGA SUKSES MAKMUR</span></div>
<div class="cu" style="top:1530px"><i>✓</i><span style="border-bottom:2px solid #fbd3f7">AMYREA ART &amp; KITCHEN</span></div>
<div class="cu" style="top:1544px"><i>✓</i><span style="border-bottom:2px solid #fde2cc">PT SHINJUU MAKMUR INDONESIA</span></div>
<div class="cu" style="top:1559px"><i>✓</i><span style="border-bottom:2px solid #e2fbd3">CV MITRA SUMBER SENTOSA</span></div>
<div class="cu" style="top:1573px"><i>✓</i><span style="border-bottom:2px solid #d3fbf6">PT. KAYSERINDO KULINER</span></div>
<div class="cu" style="top:1587px;padding-left:13px"><span style="border-bottom:2px solid #d3fbf6">JAKARTA</span></div>
<div class="cu" style="top:1602px"><i>✓</i><span style="border-bottom:2px solid #e0d6fb">PT. JAVANEGRA GASTRONOMICA</span></div>
<div class="cu" style="top:1616px;padding-left:13px"><span style="border-bottom:2px solid #e0d6fb">SEJAHTERA</span></div>
<div class="cu" style="top:1630px"><i>✓</i><span style="border-bottom:2px solid #fcd3ec">CV SUAR SURYA SAKTI</span></div>
<div class="cu" style="top:1645px"><i>✓</i><span style="border-bottom:2px solid #fdf0cc">PT TORICO MAJU MAKMUR</span></div>
<div class="cu" style="top:1659px"><i>✓</i><span style="border-bottom:2px solid #dff8c8">PT ARTISAN KULINER INDONESIA</span></div>
<div class="cu" style="top:1674px"><i>✓</i><span style="border-bottom:2px solid #d4edfc">PT BANGUN PUNDI SEJAHTERA</span></div>
<div class="cu" style="top:1688px"><i>✓</i><span style="border-bottom:2px solid #e6d6fa">PT.DARWAZA UTAMA</span></div>
<div class="cu" style="top:1702px"><i>✓</i><span style="border-bottom:2px solid #fbd3e6">PT DWI BATARA BOGA</span></div>
<div class="cu" style="top:1717px"><i>✓</i><span style="border-bottom:2px solid #fbf7cc">PT TITIK TEMU CIPETE</span></div>
<div class="cu" style="top:1731px"><i>✓</i><span style="border-bottom:2px solid #d3fbe0">PT KARBON KULINER INDONESIA</span></div>
<div class="cu" style="top:1745px"><i>✓</i><span style="border-bottom:2px solid #d4edfc">PERSEROAN TERBATAS RAAP</span></div>
<div class="cu" style="top:1760px;padding-left:13px"><span style="border-bottom:2px solid #d4edfc">GASTRONOMICA ANUGERAH</span></div>
<div class="cu" style="top:1774px"><i>✓</i><span style="border-bottom:2px solid #e6d6fa">PT HIKMAT JALA SATULIMATIGA</span></div>
<div class="cu" style="top:1789px"><i>✓</i><span style="border-bottom:2px solid #fbd3e0">PT PISON RESTOKOPI PRIMA</span></div>
<div class="cu" style="top:1803px"><i>✓</i><span>PT. GAIA CATERING COMPANY</span></div>
<div style="position:absolute;left:0;top:1815px;width:1044px;height:2px;background:#777"></div>
<div style="position:absolute;left:0;top:1817px;width:1046px;height:9px;background:#fff"></div>

<!-- ============ ARROWS ============ -->
<svg style="position:absolute;left:0;top:0;z-index:10" width="1717" height="1826" fill="none" stroke="#e8760c" stroke-width="3.2" stroke-linecap="round">
<path d="M1491 134 L539 796"/>
<path d="M539 797 L566 785 M539 797 L550 770"/>
<path d="M731 832 L862 894"/>
<path d="M862 894 L841 871 M862 894 L830 890"/>
<path d="M605 880 L440 1277"/>
<path d="M440 1278 L436 1250 M440 1278 L460 1258"/>
</svg>
</body></html>
